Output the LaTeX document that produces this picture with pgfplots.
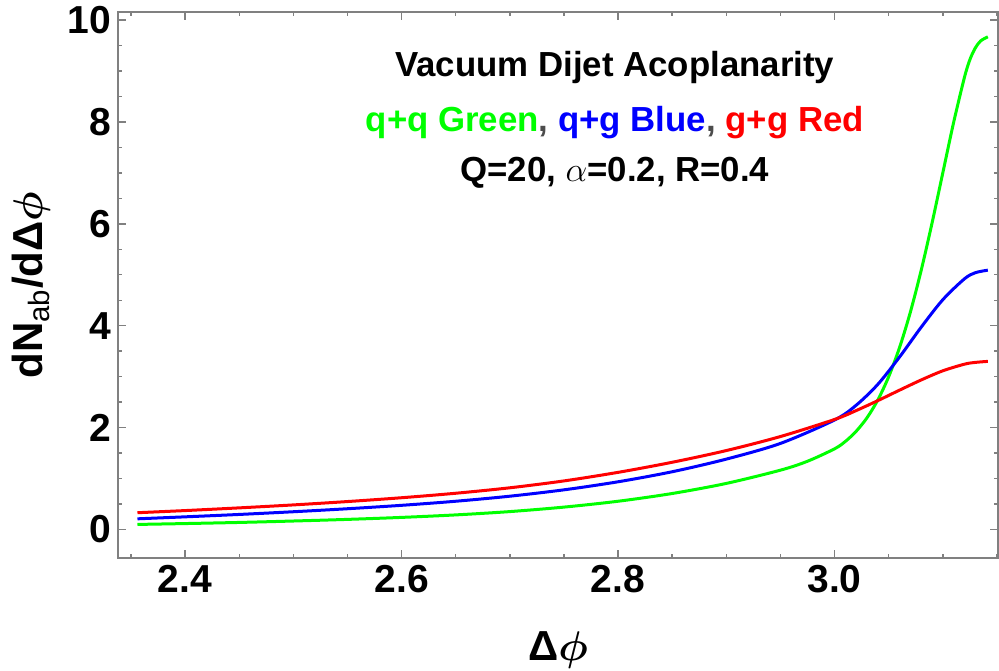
\documentclass[border=0pt]{standalone}
\usepackage{fontspec}
\setmainfont{Liberation Sans}
\usepackage{amsmath}
\usepackage{bm}
\usepackage{pgfplots}
\pgfplotsset{compat=1.18}

\definecolor{mmgreen}{rgb}{0,1,0}
\definecolor{mmblue}{rgb}{0,0,1}
\definecolor{mmred}{rgb}{1,0,0}
\definecolor{framegray}{gray}{0.5}
\definecolor{commagray}{gray}{0.3}

% q+q
\pgfplotstableread{
x      y
2.356  0.100
2.40   0.117
2.45   0.139
2.50   0.167
2.55   0.199
2.60   0.238
2.65   0.287
2.70   0.352
2.75   0.440
2.80   0.555
2.85   0.707
2.90   0.905
2.95   1.165
2.975  1.340
3.00   1.584
3.01   1.729
3.02   1.929
3.03   2.194
3.04   2.544
3.05   2.999
3.06   3.569
3.07   4.264
3.08   5.084
3.09   6.009
3.10   6.999
3.11   7.989
3.12   8.874
3.125  9.220
3.13   9.450
3.135  9.590
3.1416 9.670
}\qq

% q+g
\pgfplotstableread{
x      y
2.356  0.210
2.40   0.249
2.45   0.296
2.50   0.349
2.55   0.408
2.60   0.475
2.65   0.555
2.70   0.654
2.75   0.779
2.80   0.937
2.85   1.134
2.90   1.382
2.95   1.690
3.00   2.150
3.02   2.440
3.04   2.850
3.06   3.385
3.08   3.970
3.10   4.510
3.12   4.920
3.13   5.040
3.1416 5.090
}\qg

% g+g
\pgfplotstableread{
x      y
2.356  0.330
2.40   0.372
2.45   0.425
2.50   0.483
2.55   0.549
2.60   0.624
2.65   0.712
2.70   0.819
2.75   0.954
2.80   1.122
2.85   1.320
2.90   1.550
2.95   1.825
3.00   2.160
3.02   2.335
3.04   2.530
3.06   2.735
3.08   2.935
3.10   3.115
3.12   3.245
3.13   3.280
3.1416 3.300
}\gg

\begin{document}
\begin{tikzpicture}
\begin{axis}[
  scale only axis, width=440pt, height=273pt,
  xmin=2.338, xmax=3.151, ymin=-0.559, ymax=10.157,
  xtick={2.4,2.6,2.8,3.0},
  minor xtick={2.35,2.45,2.5,2.55,2.65,2.7,2.75,2.85,2.9,2.95,3.05,3.1,3.15},
  ytick={0,2,4,6,8,10},
  minor ytick={0.5,1,1.5,2.5,3,3.5,4.5,5,5.5,6.5,7,7.5,8.5,9,9.5},
  xticklabel style={/pgf/number format/.cd,fixed,fixed zerofill,precision=1},
  /pgf/number format/assume math mode=true,
  tick label style={font=\fontsize{19.5}{19.5}\selectfont\bfseries},
  tick align=inside,
  major tick length=4pt, minor tick length=2.2pt,
  axis line style={framegray, line width=0.8pt},
  every tick/.style={framegray, line width=0.7pt},
  xlabel={Δ$\bm{\phi}$},
  ylabel={dN\textsubscript{\mdseries ab}/dΔ$\bm{\phi}$},
  label style={font=\fontsize{21}{21}\selectfont\bfseries},
  xlabel style={at={(axis description cs:0.5,-0.168)}, anchor=center},
  ylabel style={at={(axis description cs:-0.098,0.5)}, anchor=center},
]
\addplot[mmgreen, line width=1.5pt, smooth] table {\qq};
\addplot[mmblue, line width=1.5pt, smooth] table {\qg};
\addplot[mmred, line width=1.5pt, smooth] table {\gg};

\node[anchor=base, font=\fontsize{17.4}{20}\selectfont\bfseries] at (axis cs:2.797,8.89) {Vacuum Dijet Acoplanarity};
\node[anchor=base, font=\fontsize{17.4}{20}\selectfont\bfseries] at (axis cs:2.797,7.82)
  {\textcolor{mmgreen}{q+q Green}\textcolor{commagray}{,} \textcolor{mmblue}{q+g Blue}\textcolor{commagray}{,} \textcolor{mmred}{g+g Red}};
\node[anchor=base, font=\fontsize{17.4}{20}\selectfont\bfseries] at (axis cs:2.797,6.83) {Q=20, $\alpha$=0.2, R=0.4};
\end{axis}
\pgfresetboundingbox
\path[use as bounding box] (-59pt,-56.25pt) rectangle (440.5pt,279pt);
\end{tikzpicture}
\end{document}
